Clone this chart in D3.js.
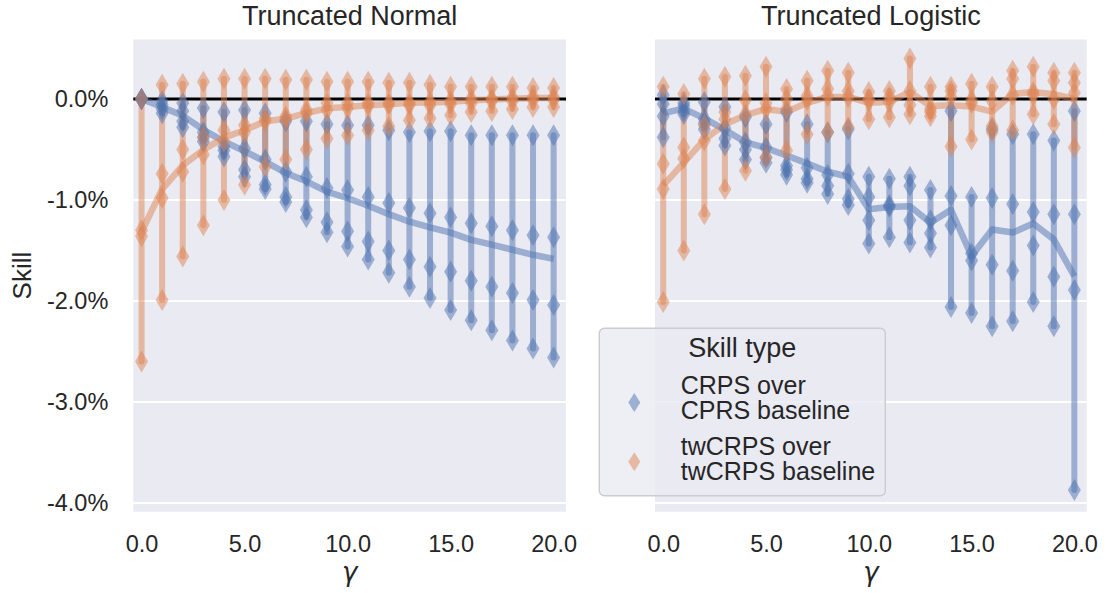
<!DOCTYPE html>
<html>
<head>
<meta charset="utf-8">
<script src="https://cdn.jsdelivr.net/npm/d3@7"></script>
<style>
  html, body { margin: 0; padding: 0; background: #ffffff; }
  svg { display: block; }
  text { font-family: "Liberation Sans", Arial, Helvetica, sans-serif; fill: #262626; }
</style>
</head>
<body>
<svg id="chart" width="1107" height="593"></svg>
<script>
// ---------------- data ----------------
const gammaValues = [0, 1, 2, 3, 4, 5, 6, 7, 8, 9, 10, 11, 12, 13, 14, 15, 16, 17, 18, 19, 20];
const xTickValues = [0, 5, 10, 15, 20];
const yTickValues = [0, -1, -2, -3, -4];
const panelTitles = ["Truncated Normal", "Truncated Logistic"];
const legendTitle = "Skill type";
const seriesLabels = [["CRPS over", "CPRS baseline"], ["twCRPS over", "twCRPS baseline"]];

// skill values (%) per gamma, 4 runs each
const normalCRPS = [
  [0.0, 0.0, 0.0, 0.0],
  [-0.02, -0.06, -0.10, -0.14],
  [-0.04, -0.12, -0.22, -0.28],
  [-0.09, -0.33, -0.38, -0.42],
  [-0.13, -0.47, -0.51, -0.57],
  [-0.11, -0.49, -0.70, -0.77],
  [-0.14, -0.60, -0.85, -0.89],
  [-0.22, -0.72, -0.97, -1.02],
  [-0.22, -0.77, -1.10, -1.17],
  [-0.25, -0.88, -1.22, -1.32],
  [-0.26, -0.90, -1.31, -1.46],
  [-0.26, -0.97, -1.41, -1.59],
  [-0.31, -1.03, -1.50, -1.72],
  [-0.33, -1.08, -1.59, -1.86],
  [-0.32, -1.13, -1.66, -1.97],
  [-0.32, -1.17, -1.71, -2.09],
  [-0.36, -1.23, -1.80, -2.19],
  [-0.36, -1.26, -1.86, -2.29],
  [-0.36, -1.30, -1.92, -2.39],
  [-0.36, -1.35, -1.99, -2.47],
  [-0.36, -1.37, -2.04, -2.56]
];
const normalTwCRPS = [
  [0.0, -1.30, -1.36, -2.60],
  [0.14, -0.74, -0.98, -1.99],
  [0.15, -0.50, -0.72, -1.56],
  [0.17, -0.38, -0.55, -1.25],
  [0.20, -0.31, -0.42, -1.00],
  [0.20, -0.26, -0.33, -0.85],
  [0.20, -0.19, -0.22, -0.67],
  [0.19, -0.17, -0.20, -0.60],
  [0.19, -0.11, -0.14, -0.50],
  [0.17, -0.04, -0.11, -0.39],
  [0.17, -0.04, -0.09, -0.36],
  [0.17, -0.04, -0.07, -0.31],
  [0.16, -0.04, -0.06, -0.27],
  [0.16, -0.04, -0.06, -0.21],
  [0.14, -0.03, -0.06, -0.19],
  [0.12, -0.02, -0.05, -0.16],
  [0.12, 0.00, -0.04, -0.13],
  [0.12, 0.00, -0.02, -0.12],
  [0.12, 0.01, -0.02, -0.10],
  [0.11, 0.02, -0.01, -0.08],
  [0.11, 0.02, -0.01, -0.08]
];
const logisticCRPS = [
  [0.04, -0.05, -0.17, -0.38],
  [-0.04, -0.07, -0.12, -0.15],
  [-0.03, -0.20, -0.24, -0.30],
  [-0.08, -0.29, -0.39, -0.46],
  [-0.18, -0.43, -0.50, -0.60],
  [-0.25, -0.48, -0.58, -0.63],
  [-0.13, -0.66, -0.70, -0.75],
  [-0.25, -0.68, -0.79, -0.83],
  [-0.33, -0.75, -0.86, -0.94],
  [-0.30, -0.74, -0.99, -1.05],
  [-0.77, -0.97, -1.20, -1.43],
  [-0.79, -1.05, -1.07, -1.37],
  [-0.77, -0.86, -1.20, -1.42],
  [-0.90, -1.20, -1.33, -1.47],
  [-0.12, -0.96, -1.25, -2.06],
  [-0.97, -1.53, -1.60, -2.12],
  [-0.30, -0.98, -1.64, -2.25],
  [-0.35, -1.04, -1.70, -2.20],
  [-0.35, -1.12, -1.45, -2.01],
  [-0.41, -1.14, -1.76, -2.25],
  [-0.12, -1.14, -1.89, -3.87]
];
const logisticTwCRPS = [
  [0.12, -0.64, -0.89, -2.01],
  [0.05, -0.48, -0.59, -1.50],
  [0.20, -0.26, -0.41, -1.14],
  [0.22, -0.13, -0.20, -0.89],
  [0.23, -0.01, -0.15, -0.71],
  [0.32, -0.04, -0.10, -0.58],
  [0.10, 0.00, -0.10, -0.51],
  [0.18, 0.03, -0.01, -0.35],
  [0.28, 0.10, 0.03, -0.33],
  [0.26, 0.08, 0.02, -0.28],
  [0.07, 0.00, -0.02, -0.20],
  [0.08, 0.02, -0.03, -0.18],
  [0.40, 0.08, -0.06, -0.15],
  [0.12, -0.10, -0.13, -0.17],
  [0.12, 0.08, 0.02, -0.47],
  [0.15, -0.01, -0.04, -0.40],
  [0.12, -0.02, -0.27, -0.33],
  [0.28, 0.20, 0.04, -0.31],
  [0.32, 0.07, 0.04, -0.15],
  [0.26, 0.18, 0.00, -0.25],
  [0.26, 0.16, 0.06, -0.48]
];

// ---------------- layout / style ----------------
const seriesColors = ["#4C72B0", "#DD8452"];
const alpha = 0.5;
const panelBg = "#EAEAF2";
const yTop = 39.5, yBot = 511.7;
const panelsLayout = [
  { x0: 133.3, x1: 566, data: [normalCRPS, normalTwCRPS] },
  { x0: 655, x1: 1086.7, data: [logisticCRPS, logisticTwCRPS] }
];
const diamondPath = (h, w) => `M0,${-h / 2}L${w / 2},0L0,${h / 2}L${-w / 2},0Z`;

const svg = d3.select("#chart");
const y = d3.scaleLinear().domain([-4.086, 0.589]).range([yBot, yTop]);

panelsLayout.forEach((p, pi) => {
  const x = d3.scaleLinear().domain([-0.4, 20.6]).range([p.x0, p.x1]);
  const g = svg.append("g");

  g.append("rect")
    .attr("x", p.x0).attr("y", yTop)
    .attr("width", p.x1 - p.x0).attr("height", yBot - yTop)
    .attr("fill", panelBg);

  // grid
  g.selectAll(".grid").data(yTickValues).enter().append("line")
    .attr("x1", p.x0).attr("x2", p.x1)
    .attr("y1", d => y(d)).attr("y2", d => y(d))
    .attr("stroke", "#ffffff").attr("stroke-width", 1.8);

  // zero reference line
  g.append("line")
    .attr("x1", p.x0).attr("x2", p.x1)
    .attr("y1", y(0)).attr("y2", y(0))
    .attr("stroke", "#000000").attr("stroke-width", 3);

  // range bars + mean line per series
  p.data.forEach((series, si) => {
    const col = seriesColors[si];
    g.append("g").selectAll("line").data(series).enter().append("line")
      .attr("x1", (d, i) => x(gammaValues[i])).attr("x2", (d, i) => x(gammaValues[i]))
      .attr("y1", d => y(d3.max(d))).attr("y2", d => y(d3.min(d)))
      .attr("stroke", col).attr("stroke-opacity", alpha)
      .attr("stroke-width", 6).attr("stroke-linecap", "round");

    const meanLine = d3.line()
      .x((d, i) => x(gammaValues[i]))
      .y(d => y(d3.mean(d)));
    g.append("path").datum(series)
      .attr("d", meanLine)
      .attr("fill", "none").attr("stroke", col).attr("stroke-opacity", alpha)
      .attr("stroke-width", 6.5).attr("stroke-linejoin", "round").attr("stroke-linecap", "butt");
  });

  // diamonds
  p.data.forEach((series, si) => {
    const col = seriesColors[si];
    const pts = [];
    series.forEach((vals, i) => vals.forEach(v => pts.push({ g: gammaValues[i], v })));
    g.append("g").selectAll("path").data(pts).enter().append("path")
      .attr("d", diamondPath(22, 13))
      .attr("transform", d => `translate(${x(d.g)},${y(d.v)})`)
      .attr("fill", col).attr("fill-opacity", alpha);
  });

  // x axis
  const xAxis = d3.axisBottom(x).tickValues(xTickValues).tickSize(0).tickPadding(0)
    .tickFormat(d => d.toFixed(1));
  const xa = g.append("g").attr("transform", `translate(0,${yBot})`).call(xAxis);
  xa.select(".domain").remove();
  xa.selectAll("text").attr("y", 40).attr("dy", 0)
    .style("font-size", "23.5px").style("fill", "#262626")
    .style("font-family", '"Liberation Sans", Arial, sans-serif');

  // x label
  g.append("text")
    .attr("x", (p.x0 + p.x1) / 2).attr("y", 581)
    .attr("text-anchor", "middle")
    .style("font-family", '"DejaVu Sans", sans-serif')
    .style("font-style", "italic").style("font-size", "26px")
    .text("γ");

  // title
  g.append("text")
    .attr("x", (p.x0 + p.x1) / 2).attr("y", 25)
    .attr("text-anchor", "middle")
    .style("font-size", "27px")
    .text(panelTitles[pi]);

  if (pi === 0) {
    const yAxis = d3.axisLeft(y).tickValues(yTickValues).tickSize(0).tickPadding(25)
      .tickFormat(d => d.toFixed(1) + "%");
    const ya = g.append("g").attr("transform", `translate(${p.x0},0)`).call(yAxis);
    ya.select(".domain").remove();
    ya.selectAll("text").attr("dy", "0.33em")
      .style("font-size", "23.5px").style("fill", "#262626")
      .style("font-family", '"Liberation Sans", Arial, sans-serif');

    g.append("text")
      .attr("transform", `translate(31,${(yTop + yBot) / 2}) rotate(-90)`)
      .attr("text-anchor", "middle")
      .style("font-size", "26px")
      .text("Skill");
  }
});

// ---------------- legend ----------------
const lg = svg.append("g");
lg.append("rect")
  .attr("x", 599.3).attr("y", 328.3).attr("width", 286).attr("height", 167.4)
  .attr("rx", 5).attr("ry", 5)
  .attr("fill", panelBg).attr("fill-opacity", 0.8)
  .attr("stroke", "#cccccc").attr("stroke-width", 1.4);
lg.append("text")
  .attr("x", 742.3).attr("y", 357.3).attr("text-anchor", "middle")
  .style("font-size", "27px").text(legendTitle);

const legendRows = [
  { my: 402.5, ty: [394, 419.3] },
  { my: 461.7, ty: [455, 480.3] }
];
legendRows.forEach((r, i) => {
  lg.append("path")
    .attr("d", diamondPath(19, 12))
    .attr("transform", `translate(634.3,${r.my})`)
    .attr("fill", seriesColors[i]).attr("fill-opacity", alpha);
  seriesLabels[i].forEach((t, j) => {
    lg.append("text")
      .attr("x", 680.7).attr("y", r.ty[j])
      .style("font-size", "25px").text(t);
  });
});
</script>
</body>
</html>
